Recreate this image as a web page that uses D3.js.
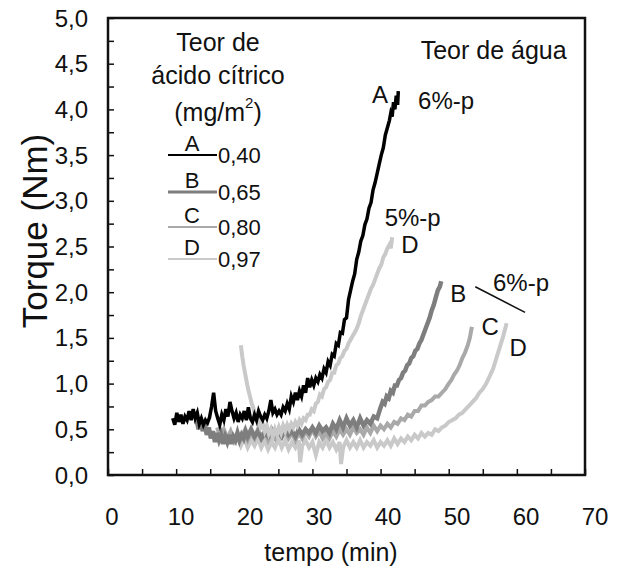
<!DOCTYPE html>
<html>
<head>
<meta charset="UTF-8">
<title>Torque</title>
<script src="https://d3js.org/d3.v7.min.js"></script>
<style>
  body { margin: 0; background: #fff; }
  svg text { font-family: "Liberation Sans", Arial, sans-serif; fill: #111; }
</style>
</head>
<body>
<div id="chart"></div>
<script>
// tempo (min) / torque (Nm)
const tA = [9.5,9.8,10.1,10.4,10.7,11.0,11.3,11.6,11.9,12.2,12.5,12.8,13.1,13.4,13.7,14.0,14.3,14.6,14.9,15.2,15.5,15.8,16.1,16.4,16.7,17.0,17.3,17.6,17.9,18.2,18.5,18.8,19.1,19.4,19.7,20.0,20.3,20.6,20.9,21.2,21.5,21.8,22.1,22.4,22.7,23.0,23.3,23.6,23.9,24.2,24.5,24.8,25.1,25.4,25.7,26.0,26.3,26.6,26.9,27.2,27.5,27.8,28.1,28.4,28.7,29.0,29.3,29.6,29.9,30.2,30.5,30.8,31.1,31.4,31.7,32.0,32.3,32.6,32.9,33.2,33.5,33.8,34.1,34.4,34.7,35.0,35.3,35.6,35.9,36.2,36.5,36.8,37.1,37.4,37.7,38.0,38.3,38.6,38.9,39.2,39.5,39.8,40.1,40.4,40.7,41.0,41.3,41.5,41.7,41.9,42.1,42.3,42.5,42.6];
const vA = [0.62,0.55,0.68,0.58,0.66,0.56,0.64,0.60,0.70,0.60,0.72,0.62,0.68,0.56,0.62,0.55,0.60,0.57,0.63,0.75,0.90,0.70,0.62,0.55,0.66,0.60,0.72,0.64,0.80,0.70,0.62,0.68,0.58,0.66,0.62,0.70,0.60,0.74,0.62,0.58,0.66,0.60,0.70,0.64,0.60,0.66,0.62,0.70,0.82,0.68,0.72,0.66,0.70,0.66,0.74,0.70,0.78,0.72,0.86,0.80,0.90,0.82,0.92,0.86,0.98,0.90,1.06,0.96,1.04,0.98,1.06,1.02,1.10,1.06,1.16,1.12,1.24,1.20,1.32,1.30,1.44,1.42,1.56,1.55,1.70,1.72,1.92,2.02,2.12,2.20,2.36,2.44,2.56,2.62,2.74,2.80,2.92,2.98,3.12,3.20,3.30,3.40,3.50,3.58,3.72,3.80,3.88,3.96,3.92,4.08,4.00,4.15,4.05,4.20];

const tB = [13.0,13.3,13.6,13.9,14.2,14.5,14.8,15.1,15.4,15.7,16.0,16.3,16.6,16.9,17.2,17.5,17.8,18.1,18.4,18.7,19.0,19.3,19.6,19.9,20.2,20.5,21.0,21.5,22.0,22.5,23.0,23.5,24.0,24.5,25.0,25.5,26.0,26.5,27.0,27.5,28.0,28.5,29.0,29.5,30.0,30.5,31.0,31.5,32.0,32.5,33.0,33.5,34.0,34.5,35.0,35.5,36.0,36.5,37.0,37.5,38.0,38.5,39.0,39.5,40.0,40.3,40.6,40.9,41.2,41.5,41.8,42.1,42.4,42.7,43.0,43.3,43.6,43.9,44.2,44.5,44.8,45.1,45.4,45.7,46.0,46.3,46.6,46.9,47.2,47.5,47.8,48.1,48.4,48.7,48.9];
const vB = [0.60,0.50,0.62,0.48,0.55,0.44,0.52,0.40,0.48,0.36,0.46,0.38,0.44,0.34,0.42,0.36,0.44,0.34,0.42,0.38,0.46,0.38,0.44,0.40,0.48,0.42,0.50,0.42,0.48,0.40,0.46,0.42,0.50,0.44,0.48,0.42,0.50,0.44,0.48,0.42,0.50,0.44,0.50,0.46,0.52,0.46,0.54,0.48,0.52,0.46,0.56,0.50,0.60,0.52,0.62,0.54,0.60,0.52,0.62,0.54,0.60,0.56,0.64,0.62,0.74,0.80,0.78,0.86,0.84,0.92,0.90,0.98,0.98,1.04,1.06,1.12,1.14,1.20,1.22,1.28,1.30,1.36,1.38,1.44,1.48,1.54,1.60,1.66,1.72,1.80,1.86,1.94,2.02,2.06,2.12];

const tC = [16.0,16.5,17.0,17.5,18.0,18.5,19.0,19.5,20.0,20.5,21.0,21.5,22.0,22.5,23.0,23.5,24.0,24.5,25.0,25.5,26.0,26.5,27.0,27.5,28.0,28.5,29.0,29.5,30.0,30.5,31.0,31.5,32.0,32.5,33.0,33.5,34.0,34.5,35.0,35.5,36.0,36.5,37.0,37.5,38.0,38.5,39.0,39.5,40.0,40.5,41.0,41.5,42.0,42.5,43.0,43.5,44.0,44.5,45.0,45.5,46.0,46.5,47.0,47.5,48.0,48.5,49.0,49.5,50.0,50.4,50.8,51.2,51.6,52.0,52.4,52.8,53.1,53.4];
const vC = [0.52,0.42,0.50,0.40,0.48,0.38,0.46,0.40,0.48,0.38,0.46,0.40,0.50,0.42,0.48,0.38,0.46,0.40,0.50,0.42,0.48,0.40,0.46,0.38,0.46,0.40,0.48,0.42,0.50,0.42,0.48,0.40,0.46,0.40,0.48,0.42,0.50,0.44,0.50,0.44,0.52,0.46,0.50,0.44,0.52,0.46,0.54,0.48,0.54,0.50,0.56,0.52,0.58,0.56,0.62,0.60,0.66,0.64,0.70,0.70,0.76,0.76,0.80,0.82,0.86,0.86,0.90,0.94,1.00,1.04,1.10,1.14,1.20,1.28,1.34,1.42,1.50,1.62];

// D, 5%-p
const tD5 = [19.5,19.7,19.9,20.1,20.3,20.5,20.7,20.9,21.1,21.3,21.5,21.7,21.9,22.1,22.4,22.7,23.0,23.3,23.6,23.9,24.2,24.5,24.8,25.1,25.4,25.7,26.0,26.3,26.6,26.9,27.2,27.5,27.8,28.1,28.4,28.7,29.0,29.3,29.6,29.9,30.2,30.5,30.8,31.1,31.4,31.7,32.0,32.3,32.6,32.9,33.2,33.5,33.8,34.1,34.4,34.7,35.0,35.3,35.6,35.9,36.2,36.5,36.8,37.1,37.4,37.7,38.0,38.3,38.6,38.9,39.2,39.5,39.8,40.1,40.4,40.7,41.0,41.3,41.5,41.7];
const vD5 = [1.42,1.30,1.20,1.12,1.04,0.96,0.90,0.84,0.78,0.74,0.68,0.64,0.58,0.60,0.52,0.56,0.48,0.54,0.45,0.50,0.42,0.50,0.44,0.52,0.46,0.54,0.48,0.55,0.50,0.56,0.52,0.58,0.54,0.60,0.56,0.62,0.60,0.66,0.66,0.72,0.70,0.78,0.80,0.88,0.86,0.94,0.96,1.02,1.04,1.12,1.12,1.20,1.22,1.28,1.30,1.36,1.38,1.44,1.48,1.52,1.56,1.60,1.66,1.74,1.80,1.86,1.92,1.98,2.04,2.08,2.14,2.20,2.26,2.30,2.38,2.42,2.48,2.52,2.48,2.60];

// D, 6%-p
const tD6 = [18.0,18.5,19.0,19.5,20.0,20.5,21.0,21.5,22.0,22.5,23.0,23.5,24.0,24.5,25.0,25.5,26.0,26.5,27.0,27.5,28.0,28.2,28.5,29.0,29.5,30.0,30.5,31.0,31.5,32.0,32.5,33.0,33.5,34.0,34.2,34.5,35.0,35.5,36.0,36.5,37.0,37.5,38.0,38.5,39.0,39.5,40.0,40.5,41.0,41.5,42.0,42.5,43.0,43.5,44.0,44.5,45.0,45.5,46.0,46.5,47.0,47.5,48.0,48.5,49.0,49.5,50.0,50.5,51.0,51.5,52.0,52.5,53.0,53.5,54.0,54.5,55.0,55.5,56.0,56.5,57.0,57.5,58.0,58.5];
const vD6 = [0.45,0.36,0.42,0.32,0.40,0.30,0.38,0.32,0.40,0.30,0.38,0.28,0.36,0.30,0.40,0.30,0.38,0.28,0.36,0.30,0.38,0.14,0.32,0.38,0.30,0.36,0.22,0.36,0.30,0.38,0.30,0.36,0.28,0.36,0.12,0.30,0.38,0.30,0.36,0.30,0.38,0.30,0.36,0.32,0.38,0.30,0.36,0.32,0.38,0.32,0.40,0.34,0.40,0.36,0.42,0.38,0.44,0.40,0.46,0.42,0.46,0.44,0.50,0.48,0.52,0.54,0.58,0.60,0.62,0.66,0.68,0.72,0.76,0.80,0.84,0.90,0.94,1.00,1.08,1.16,1.28,1.40,1.52,1.66];

const xTicks = [0,10,20,30,40,50,60,70];
const yTicks = [0,0.5,1,1.5,2,2.5,3,3.5,4,4.5,5];
const legendKeys = ["A","B","C","D"];
const legendVals = ["0,40","0,65","0,80","0,97"];

const width = 624, height = 566;
const margin = { top: 18, right: 39, bottom: 91, left: 108 };

const svg = d3.select("#chart").append("svg")
  .attr("width", width).attr("height", height);

const x = d3.scaleLinear().domain([0, 70]).range([margin.left, width - margin.right]);
const y = d3.scaleLinear().domain([0, 5]).range([height - margin.bottom, margin.top]);
// the printed tick labels sit a little right of their ticks
const xLab = d3.scaleLinear().domain([0, 70]).range([margin.left + 4, width - margin.right + 10]);

const fmt = d => d3.format(".1f")(d).replace(".", ",");

// axes, ticks inside
svg.append("g")
  .attr("transform", `translate(0,${y(0)})`)
  .call(d3.axisBottom(x).tickValues(d3.range(0, 71, 5)).tickSize(-6).tickFormat(""))
  .call(g => g.select(".domain").remove())
  .selectAll("line").attr("stroke", "#111").attr("stroke-width", 1.5);

svg.append("g")
  .attr("transform", `translate(${x(0)},0)`)
  .call(d3.axisLeft(y).tickValues(d3.range(0, 5.01, 0.25)).tickSize(-6).tickFormat(""))
  .call(g => g.select(".domain").remove())
  .selectAll("line").attr("stroke", "#111").attr("stroke-width", 1.5);

svg.selectAll(".xl").data(xTicks).enter().append("text")
  .attr("x", d => xLab(d)).attr("y", 516)
  .attr("text-anchor", "middle").attr("dominant-baseline", "central")
  .attr("font-size", 24).text(d => d);

svg.selectAll(".yl").data(yTicks).enter().append("text")
  .attr("x", 88).attr("y", d => y(d))
  .attr("text-anchor", "end").attr("dominant-baseline", "central")
  .attr("font-size", 24).text(fmt);

svg.append("text")
  .attr("x", 331).attr("y", 552)
  .attr("text-anchor", "middle").attr("dominant-baseline", "central")
  .attr("font-size", 25).text("tempo (min)");

svg.append("text")
  .attr("transform", `translate(34,231) rotate(-90)`)
  .attr("text-anchor", "middle").attr("dominant-baseline", "central")
  .attr("font-size", 35).text("Torque (Nm)");

// curves
const series = [
  { t: tD6, v: vD6, color: "#c9c9c9", w: 4 },
  { t: tC, v: vC, color: "#a9a9a9", w: 4 },
  { t: tB, v: vB, color: "#7e7e7e", w: 4.5 },
  { t: tD5, v: vD5, color: "#c9c9c9", w: 4 },
  { t: tA, v: vA, color: "#000", w: 3.5 }
];
const line = d3.line().x(d => x(d[0])).y(d => y(d[1]));
svg.selectAll(".curve").data(series).enter().append("path")
  .attr("class", "curve")
  .attr("d", s => line(s.t.map((t, i) => [t, s.v[i]])))
  .attr("fill", "none").attr("stroke", s => s.color)
  .attr("stroke-width", s => s.w).attr("stroke-linejoin", "miter");

// frame
svg.append("rect")
  .attr("x", x(0)).attr("y", y(5))
  .attr("width", x(70) - x(0)).attr("height", y(0) - y(5))
  .attr("fill", "none").attr("stroke", "#111").attr("stroke-width", 2.5);

// legend
const lg = svg.append("g");
[["Teor de", 42], ["ácido cítrico", 75], ["(mg/m", 112]].forEach(([s, yy], i) => {
  const t = lg.append("text").attr("x", 218).attr("y", yy)
    .attr("text-anchor", "middle").attr("dominant-baseline", "central")
    .attr("font-size", 25).text(s);
  if (i === 2) {
    t.append("tspan").attr("font-size", 15).attr("dy", -10).text("2");
    t.append("tspan").attr("dy", 10).text(")");
  }
});
const legColors = ["#000", "#7e7e7e", "#a9a9a9", "#c9c9c9"];
const legWidths = [1.8, 3, 2, 2];
const legY = [155, 192, 227, 259];
legendKeys.forEach((k, i) => {
  lg.append("line").attr("x1", 168).attr("x2", 217)
    .attr("y1", legY[i]).attr("y2", legY[i])
    .attr("stroke", legColors[i]).attr("stroke-width", legWidths[i]);
  lg.append("text").attr("x", 192).attr("y", legY[i] - 12)
    .attr("text-anchor", "middle").attr("dominant-baseline", "central")
    .attr("font-size", 22).text(k);
  lg.append("text").attr("x", 218).attr("y", legY[i])
    .attr("dominant-baseline", "central")
    .attr("font-size", 22).text(legendVals[i]);
});

// annotations (data coords)
const notes = [
  { t: 56.6, v: 4.65, s: "Teor de água", a: "middle" },
  { t: 39.9, v: 4.16, s: "A", a: "middle" },
  { t: 45.5, v: 4.10, s: "6%-p", a: "start" },
  { t: 40.6, v: 2.82, s: "5%-p", a: "start" },
  { t: 44.3, v: 2.52, s: "D", a: "middle" },
  { t: 51.4, v: 1.99, s: "B", a: "middle" },
  { t: 56.5, v: 2.11, s: "6%-p", a: "start" },
  { t: 56.1, v: 1.62, s: "C", a: "middle" },
  { t: 60.2, v: 1.39, s: "D", a: "middle" }
];
svg.selectAll(".note").data(notes).enter().append("text")
  .attr("x", d => x(d.t)).attr("y", d => y(d.v))
  .attr("text-anchor", d => d.a).attr("dominant-baseline", "central")
  .attr("font-size", d => d.s.length > 8 ? 25 : 24).text(d => d.s);

svg.append("line")
  .attr("x1", x(53.9)).attr("y1", y(2.06))
  .attr("x2", x(61.2)).attr("y2", y(1.78))
  .attr("stroke", "#111").attr("stroke-width", 1.5);
</script>
</body>
</html>
